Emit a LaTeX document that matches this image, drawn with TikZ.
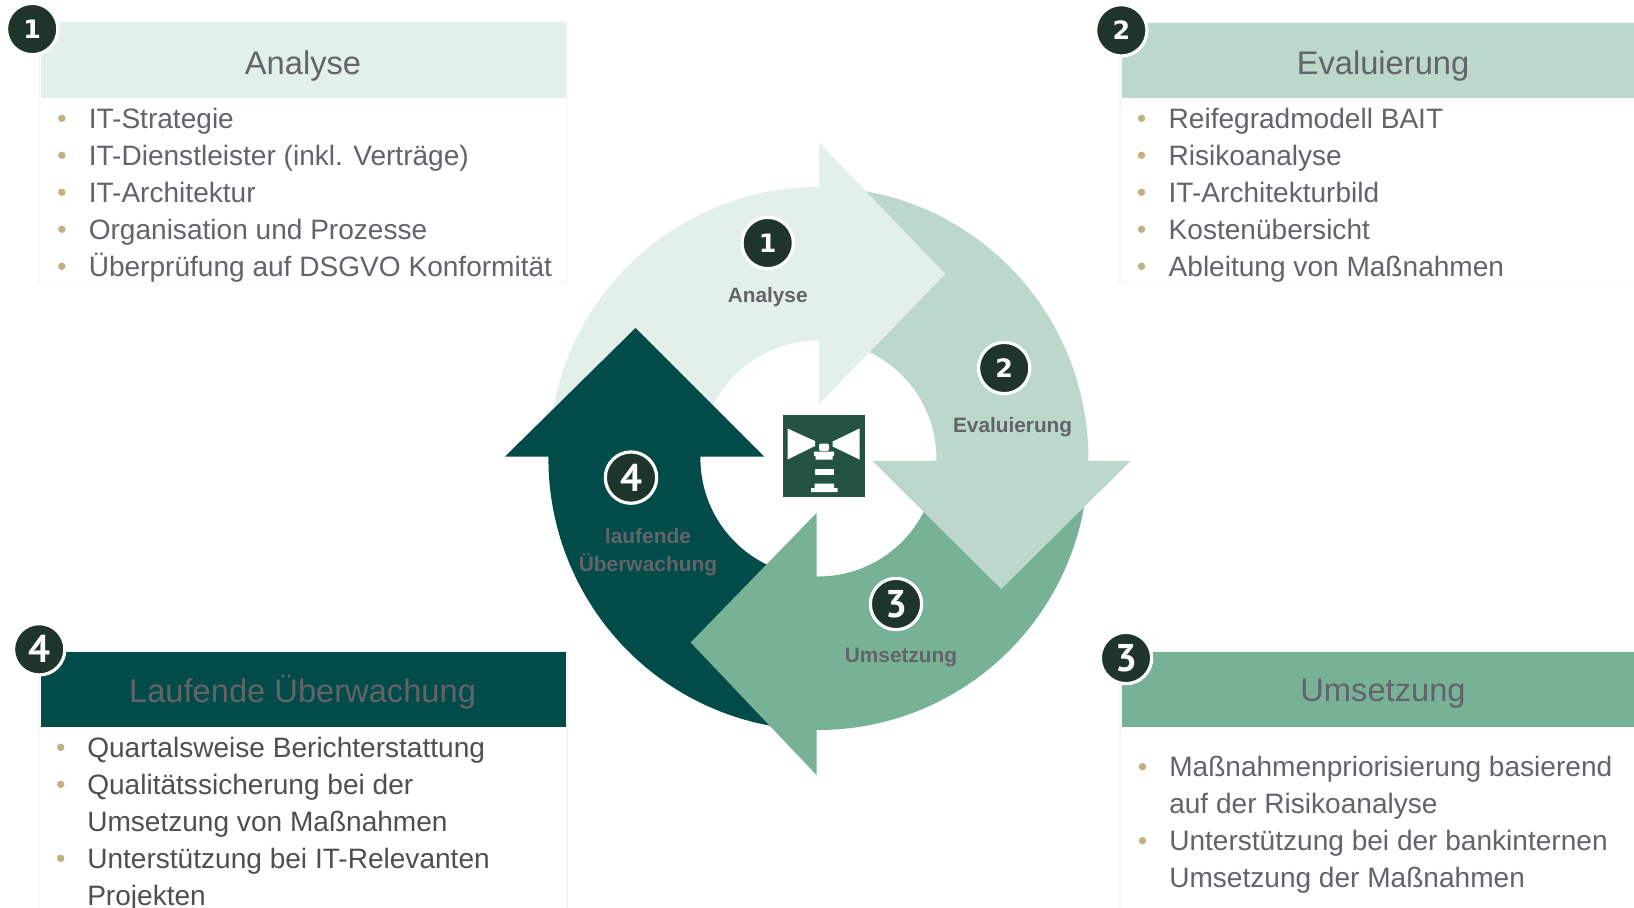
\documentclass[tikz,border=0pt]{standalone}
\usepackage{fontspec}
\setmainfont{Liberation Sans}
\newfontfamily\badgeA{DejaVu Sans}
\newfontfamily\badgeB{PT Sans}
\definecolor{cA}{HTML}{E3F0E9}
\definecolor{cB}{HTML}{BBD8CA}
\definecolor{cC}{HTML}{77B296}
\definecolor{cD}{HTML}{014C49}
\definecolor{cBadge}{HTML}{1F352A}
\definecolor{cText}{HTML}{636369}
\definecolor{cDark}{HTML}{4F4F52}
\definecolor{cBul}{HTML}{C0B183}
\definecolor{cIcon}{HTML}{245243}
\definecolor{cFaint}{HTML}{F4F5F4}
\tikzset{
 head/.style={inner sep=0pt,text=cText,font=\fontsize{24.5}{24.5}\selectfont,anchor=center},
 item/.style={inner sep=0pt,text=cText,font=\fontsize{21.05}{21}\selectfont,anchor=base west},
 itemdark/.style={item,text=cDark},
 bul/.style={circle,fill=cBul,inner sep=0pt,minimum size=5.6pt},
 ringlab/.style={inner sep=0pt,text=cText,font=\bfseries\fontsize{15.6}{15.6}\selectfont,anchor=center},
 badge/.style={circle,fill=cBadge,draw=white,line width=2.4pt,inner sep=0pt,minimum size=38.5pt,text=white},
 numA/.style={badge,font=\badgeA\bfseries\fontsize{19}{19}\selectfont},
 numB/.style={badge,font=\badgeB\bfseries\fontsize{29}{29}\selectfont},
 panel/.style={fill=white,draw=cFaint,line width=0.9pt},
}
\newcommand{\ringbody}[3]{%
 \fill[#1] plot[domain=#2:#3,samples=70,variable=\t]({818.4+270*cos(\t)},{458.5-271.5*sin(\t)})
  -- plot[domain=#3:#2,samples=70,variable=\t]({818.4+118*cos(\t)},{458.5-118*sin(\t)}) -- cycle;}
\begin{document}
\begin{tikzpicture}[x=0.75pt,y=-0.75pt]
\useasboundingbox (0,0) rectangle (1634,907);
\fill[white] (0,0) rectangle (1634,907);
% ring bodies
\ringbody{cA}{180}{86}
\ringbody{cB}{87}{-3}
\ringbody{cC}{-2}{-94}
\ringbody{cD}{-100}{-182}
% ring heads
\fill[cA] (819,142.5) -- (945.3,274) -- (819,404) -- cycle;
\fill[cB] (872.5,461) -- (1130.5,461) -- (1001.3,589) -- cycle;
\fill[cC] (816.5,513) -- (690.7,642.5) -- (816.5,775) -- cycle;
\fill[cD] (635.5,328) -- (505,456.5) -- (764,456.5) -- cycle;
% ring badges and labels
\node[numA] (r1) at (767.7,243) {1};
\node[numA] (r2) at (1004.2,368) {2};
\node[numB] (r3) at (896,604) {3};
\node[numB] (r4) at (631,477.6) {4};
\node[ringlab] (l1) at (767.7,296.8) {Analyse};
\node[ringlab] (l2) at (1012.6,426.9) {Evaluierung};
\node[ringlab] (l3) at (901,657.7) {Umsetzung};
\node[ringlab,align=center,font=\bfseries\fontsize{15.7}{21}\selectfont] (l4) at (648,552) {laufende\\Überwachung};
% icon
\fill[cIcon] (782.7,415) rectangle (864.7,497);
\fill[white] (787.5,428.5) -- (815,441) -- (815,446) -- (787.5,459.5) -- cycle;
\fill[white] (859.5,428.5) -- (832.7,441.5) -- (832.7,446.5) -- (859.5,459.5) -- cycle;
\fill[white,rounded corners=1.5pt] (819,451) -- (819,443.5) -- (829,443.5) -- (829,451) -- cycle;
\fill[white] (814,451.5) rectangle (834,456) (815.5,456) rectangle (832.5,459.5);
\fill[white] (814.5,469) rectangle (834,475);
\fill[white] (814.5,483.5) -- (834,483.5) -- (834,488) -- (837.5,488) -- (837.5,492) -- (811,492) -- (811,488) -- (814.5,488) -- cycle;
% box 1
\draw[panel] (39.6,22) rectangle (567.5,283.3);
\fill[cA] (40.7,22.7) rectangle (566.4,98.3);
\node[numA] (b1) at (32.2,29) {1};
\node[head] (t1) at (303,66) {Analyse};
\node[bul] (p11) at (61.8,118.3) {}; \node[item] (i11) at (88.5,128.6) {IT-Strategie};
\node[bul] (p12) at (61.8,155.3) {}; \node[item] (i12) at (88.5,165.6) {IT-Dienstleister (inkl. Verträge)};
\node[bul] (p13) at (61.8,192.3) {}; \node[item] (i13) at (88.5,202.6) {IT-Architektur};
\node[bul] (p14) at (61.8,229.3) {}; \node[item] (i14) at (88.5,239.6) {Organisation und Prozesse};
\node[bul] (p15) at (61.8,266.3) {}; \node[item] (i15) at (88.5,276.6) {Überprüfung auf DSGVO Konformität};
% box 2
\draw[panel] (1120,22.5) rectangle (1640,283.3);
\fill[cB] (1121.7,23.3) rectangle (1634,98);
\node[numA] (b2) at (1121.3,30.3) {2};
\node[head] (t2) at (1383,66) {Evaluierung};
\node[bul] (p21) at (1141.5,118.3) {}; \node[item] (i21) at (1168.4,128.6) {Reifegradmodell BAIT};
\node[bul] (p22) at (1141.5,155.3) {}; \node[item] (i22) at (1168.4,165.6) {Risikoanalyse};
\node[bul] (p23) at (1141.5,192.3) {}; \node[item] (i23) at (1168.4,202.6) {IT-Architekturbild};
\node[bul] (p24) at (1141.5,229.3) {}; \node[item] (i24) at (1168.4,239.6) {Kostenübersicht};
\node[bul] (p25) at (1141.5,266.3) {}; \node[item] (i25) at (1168.4,276.6) {Ableitung von Maßnahmen};
% box 3
\draw[panel] (1120,651.5) rectangle (1640,915);
\fill[cC] (1121.7,652) rectangle (1634,726.7);
\node[numB] (b3) at (1126,658) {3};
\node[head] (t3) at (1383,694) {Umsetzung};
\node[bul] (p31) at (1142.5,766.7) {}; \node[item] (i31) at (1169,776.2) {Maßnahmenpriorisierung basierend};
\node[item] (i32) at (1169,813.2) {auf der Risikoanalyse};
\node[bul] (p33) at (1142.5,840.7) {}; \node[item] (i33) at (1169,850.2) {Unterstützung bei der bankinternen};
\node[item] (i34) at (1169,887.2) {Umsetzung der Maßnahmen};
% box 4
\draw[panel] (39.6,651.5) rectangle (567,915);
\fill[cD] (40.7,652) rectangle (565.7,727.3);
\node[numB] (b4) at (39.2,649.3) {4};
\node[head] (t4) at (302.6,692) {Laufende Überwachung};
\node[bul] (p41) at (60.7,747.3) {}; \node[itemdark] (i41) at (87,757.8) {Quartalsweise Berichterstattung};
\node[bul] (p42) at (60.7,784.3) {}; \node[itemdark] (i42) at (87,794.8) {Qualitätssicherung bei der};
\node[itemdark] (i43) at (87,831.8) {Umsetzung von Maßnahmen};
\node[bul] (p44) at (60.7,858.3) {}; \node[itemdark] (i44) at (87,868.8) {Unterstützung bei IT-Relevanten};
\node[itemdark] (i45) at (87,905.8) {Projekten};
\end{tikzpicture}
\end{document}
